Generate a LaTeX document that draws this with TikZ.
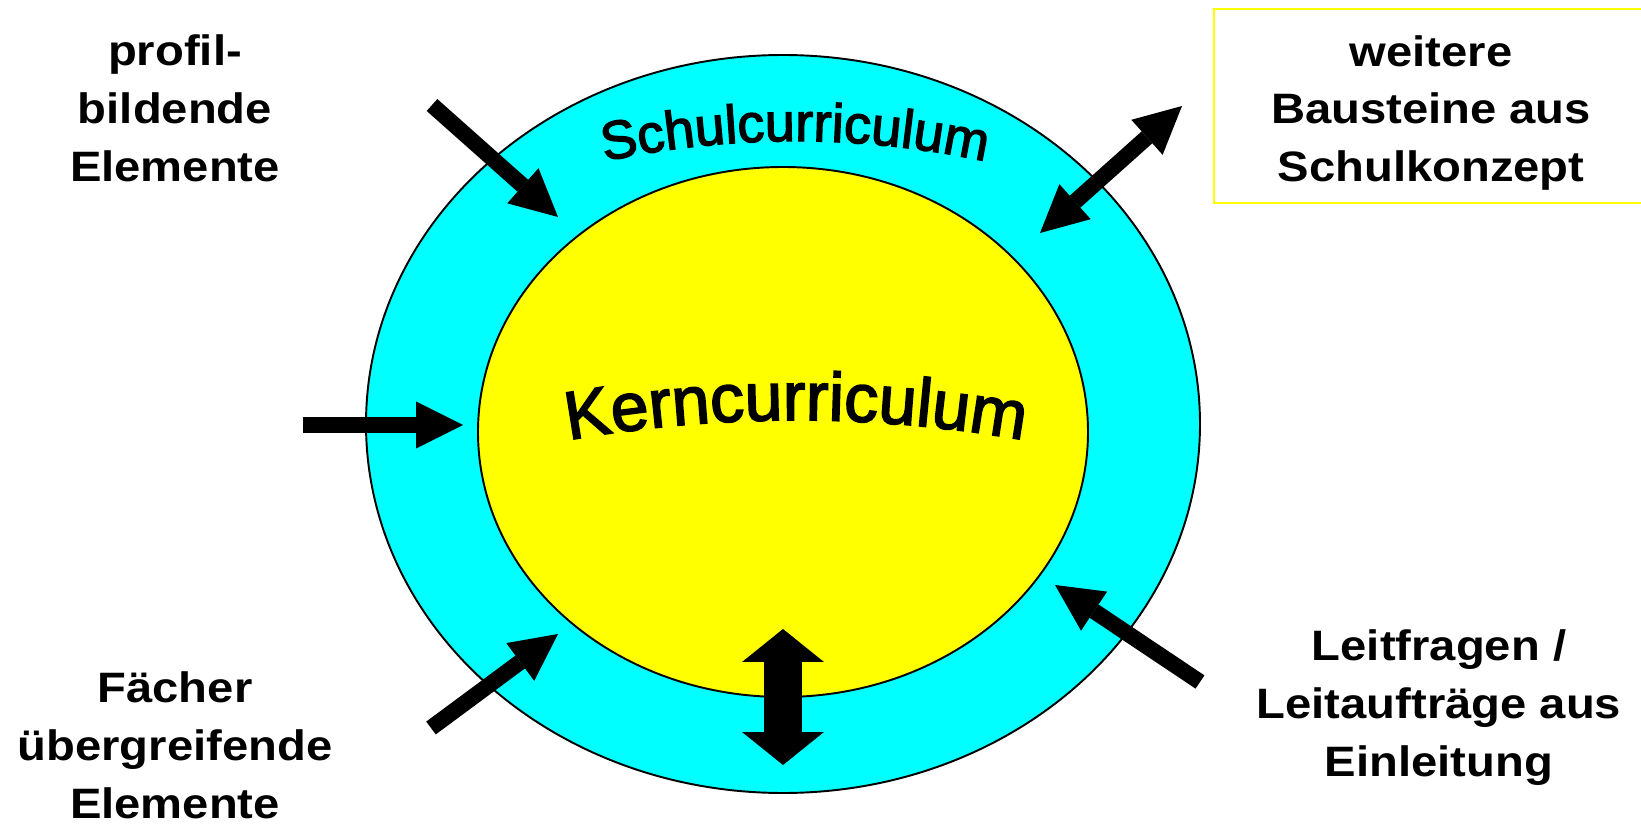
\documentclass[tikz,border=0pt]{standalone}
\usepackage{fontspec}
\setmainfont{Liberation Sans}
\newfontfamily\labelfont[FakeStretch=1.11]{Liberation Sans}
\newfontfamily\arcfont[FakeBold=2.5]{Liberation Sans}
\usetikzlibrary{arrows.meta, decorations.text}
\definecolor{ringcyan}{RGB}{0,255,255}
\definecolor{coreyellow}{RGB}{255,255,0}
\newcommand{\labelsize}{\labelfont\bfseries\fontsize{24.2pt}{33pt}\selectfont}
\newcommand{\kernsize}{\arcfont\fontsize{38.7pt}{40pt}\selectfont}
\newcommand{\schulsize}{\arcfont\fontsize{30.7pt}{32pt}\selectfont}

\begin{document}
\begin{tikzpicture}[
  x=0.02cm, y=0.02cm,
  lbl/.style={font=\labelsize, align=center, inner sep=0pt},
  ring/.style={draw=black, line width=1.1pt},
  fatarr/.style={line width=0.32cm, -{Triangle[length=0.94cm, width=0.94cm, line width=0pt]}},
  fatdarr/.style={line width=0.32cm, {Triangle[length=0.94cm, width=0.94cm, line width=0pt]}-{Triangle[length=0.94cm, width=0.94cm, line width=0pt]}},
  updown/.style={line width=0.76cm, {Triangle[length=0.66cm, width=1.64cm, line width=0pt]}-{Triangle[length=0.66cm, width=1.64cm, line width=0pt]}},
  arctext/.style={decorate, decoration={text along path, text align=center, text format delimiters={|}{|}, text={#1}}}
]
\useasboundingbox (0,0) rectangle (1641,-824);

% --- rings ---
\filldraw[ring, fill=ringcyan] (783,-424) ellipse [x radius=417, y radius=369];
\filldraw[ring, fill=coreyellow] (783,-432) ellipse [x radius=305, y radius=265];

% curved titles
\path[arctext={|\schulsize|Schulcurriculum}] (795,-1041) ++(105:900) arc[start angle=105, end angle=75, radius=900];
\path[arctext={|\kernsize|Kerncurriculum}] (796,-1720) ++(102:1300) arc[start angle=102, end angle=78, radius=1300];

% --- labels ---
\node[lbl] (profil) at (175,-108.5) {profil-\\bildende\\Elemente};
\node[lbl] (fach) at (175,-745) {Fächer\\übergreifende\\Elemente};
\node[lbl] (leit) at (1439,-707.5) {Leitfragen /\\Leitaufträge aus\\Einleitung};
\node[lbl] (weitere) at (1431,-113) {weitere\\Bausteine aus\\Schulkonzept};
\draw[draw=coreyellow, line width=1.4pt] (1214,-9) rectangle (1650,-203);

% --- arrow ends ---
\coordinate (pA) at (432,-105);  \coordinate (pB) at (558,-217);
\coordinate (mA) at (303,-425);  \coordinate (mB) at (463,-425);
\coordinate (fA) at (431,-728);  \coordinate (fB) at (558,-634);
\coordinate (lA) at (1200,-682); \coordinate (lB) at (1055,-585);
\coordinate (wA) at (1040,-233); \coordinate (wB) at (1182,-106);
\coordinate (kA) at (783,-629);  \coordinate (kB) at (783,-765);

\draw[fatarr] (pA) -- (pB);
\draw[fatarr] (mA) -- (mB);
\draw[fatarr] (fA) -- (fB);
\draw[fatarr] (lA) -- (lB);
\draw[fatdarr] (wA) -- (wB);
\draw[updown] (kA) -- (kB);

\end{tikzpicture}
\end{document}
